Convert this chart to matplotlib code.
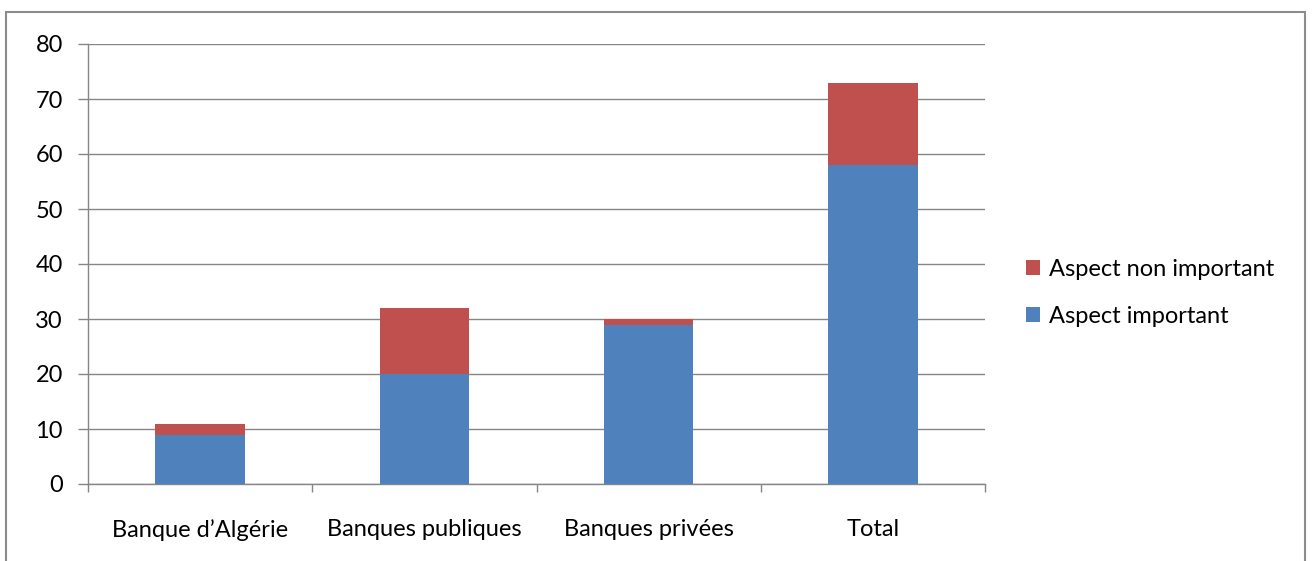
import matplotlib
matplotlib.use("Agg")
import matplotlib.pyplot as plt
import numpy as np
from matplotlib.patches import Rectangle

# ── Données ────────────────────────────────────────────────────────────────────
categories = ["Banque d’Algérie", "Banques publiques", "Banques privées", "Total"]
important = [9, 20, 29, 58]
non_important = [2, 12, 1, 15]

BLEU = "#4F81BD"
ROUGE = "#C0504D"
GRIS = "#868686"
TAILLE = 17

plt.rcParams["font.family"] = ["Lato", "DejaVu Sans"]

fig = plt.figure(figsize=(13.12, 5.61), dpi=100)
ax = fig.add_axes([88 / 1312, 1 - 484 / 561, (985 - 88) / 1312, (484 - 44) / 561])

x = np.arange(len(categories))
ax.bar(x, important, width=0.4, color=BLEU, label="Aspect important", zorder=3)
ax.bar(x, non_important, width=0.4, bottom=important, color=ROUGE,
       label="Aspect non important", zorder=3)

ax.set_xlim(-0.5, len(categories) - 0.5)
ax.set_ylim(0, 80)
ax.set_yticks(range(0, 81, 10))
ax.yaxis.grid(True, color=GRIS, linewidth=1.0, zorder=0)
ax.tick_params(axis="y", length=7, width=1, color=GRIS, pad=11, labelsize=TAILLE,
               labelcolor="#000000")

# graduations entre catégories, libellés centrés
ax.set_xticks(x)
ax.set_xticklabels(categories)
ax.set_xticks(np.arange(-0.5, len(categories)), minor=True)
ax.tick_params(axis="x", which="major", length=0, pad=25, labelsize=TAILLE)
ax.tick_params(axis="x", which="minor", length=6, width=1, color=GRIS)

for side in ("top", "right"):
    ax.spines[side].set_visible(False)
for side in ("left", "bottom"):
    ax.spines[side].set_color(GRIS)
    ax.spines[side].set_linewidth(1.0)

handles, labels = ax.get_legend_handles_labels()
fig.legend(handles[::-1], labels[::-1], loc="center left",
           bbox_to_anchor=(1005 / 1312, 1 - 293 / 561), frameon=False,
           fontsize=TAILLE, handlelength=0.6, handleheight=0.6,
           handletextpad=0.35, labelspacing=1.1)

# cadre extérieur du graphique
fig.patches.append(Rectangle((6 / 1312, -0.02), (1305 - 6) / 1312, 1 - 12 / 561 + 0.02,
                             transform=fig.transFigure, fill=False,
                             edgecolor="#8C8C8C", linewidth=1.5))

fig.savefig("out.png", dpi=100)
